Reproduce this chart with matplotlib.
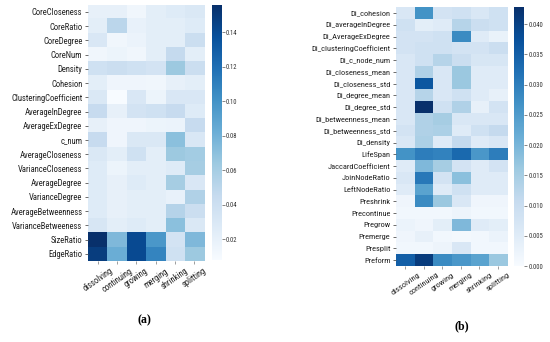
import numpy as np
import matplotlib
matplotlib.use("Agg")
import matplotlib.pyplot as plt
from matplotlib import font_manager

# labels
classes = ["dissolving", "continuing", "growing", "merging", "shrinking", "splitting"]

feats_a = ["CoreCloseness", "CoreRatio", "CoreDegree", "CoreNum", "Density",
           "Cohesion", "ClusteringCoefficient", "AverageInDegree", "AverageExDegree",
           "c_num", "AverageCloseness", "VarianceCloseness", "AverageDegree",
           "VarianceDegree", "AverageBetweenness", "VarianceBetweeness",
           "SizeRatio", "EdgeRatio"]

feats_b = ["Di_cohesion", "Di_averageInDegree", "Di_AverageExDegree",
           "Di_clusteringCoefficient", "Di_c_node_num", "Di_closeness_mean",
           "Di_closeness_std", "Di_degree_mean", "Di_degree_std",
           "Di_betweenness_mean", "Di_betweenness_std", "Di_density", "LifeSpan",
           "JaccardCoefficient", "JoinNodeRatio", "LeftNodeRatio", "Preshrink",
           "Precontinue", "Pregrow", "Premerge", "Presplit", "Preform"]

# feature importances (rows = features, cols = classes)
imp_a = [
    [0.020, 0.020, 0.013, 0.023, 0.026, 0.029],
    [0.023, 0.050, 0.019, 0.023, 0.023, 0.026],
    [0.030, 0.013, 0.017, 0.023, 0.023, 0.041],
    [0.013, 0.016, 0.013, 0.023, 0.045, 0.023],
    [0.038, 0.041, 0.038, 0.035, 0.064, 0.041],
    [0.023, 0.014, 0.014, 0.013, 0.020, 0.023],
    [0.029, 0.008, 0.030, 0.016, 0.030, 0.030],
    [0.044, 0.020, 0.035, 0.038, 0.044, 0.026],
    [0.020, 0.014, 0.014, 0.016, 0.017, 0.044],
    [0.044, 0.014, 0.029, 0.029, 0.070, 0.030],
    [0.029, 0.023, 0.038, 0.023, 0.064, 0.061],
    [0.026, 0.016, 0.023, 0.023, 0.026, 0.060],
    [0.026, 0.020, 0.026, 0.023, 0.060, 0.030],
    [0.026, 0.020, 0.023, 0.023, 0.019, 0.055],
    [0.026, 0.020, 0.023, 0.023, 0.053, 0.041],
    [0.032, 0.023, 0.026, 0.023, 0.070, 0.029],
    [0.156, 0.075, 0.141, 0.097, 0.035, 0.075],
    [0.148, 0.082, 0.141, 0.108, 0.038, 0.064],
]

imp_b = [
    [0.0064, 0.0265, 0.0077, 0.0086, 0.0064, 0.0086],
    [0.0086, 0.0043, 0.0051, 0.0128, 0.0094, 0.0086],
    [0.0077, 0.0077, 0.0086, 0.0278, 0.0051, 0.0030],
    [0.0077, 0.0086, 0.0086, 0.0077, 0.0077, 0.0094],
    [0.0064, 0.0086, 0.0128, 0.0094, 0.0068, 0.0068],
    [0.0064, 0.0137, 0.0064, 0.0163, 0.0051, 0.0051],
    [0.0064, 0.0364, 0.0064, 0.0163, 0.0051, 0.0051],
    [0.0064, 0.0128, 0.0064, 0.0086, 0.0051, 0.0034],
    [0.0064, 0.0428, 0.0086, 0.0137, 0.0034, 0.0077],
    [0.0064, 0.0137, 0.0150, 0.0064, 0.0064, 0.0064],
    [0.0077, 0.0137, 0.0141, 0.0051, 0.0086, 0.0107],
    [0.0064, 0.0141, 0.0051, 0.0107, 0.0051, 0.0064],
    [0.0265, 0.0300, 0.0291, 0.0334, 0.0257, 0.0300],
    [0.0051, 0.0193, 0.0150, 0.0077, 0.0051, 0.0077],
    [0.0064, 0.0308, 0.0077, 0.0180, 0.0051, 0.0051],
    [0.0051, 0.0235, 0.0051, 0.0086, 0.0051, 0.0051],
    [0.0017, 0.0278, 0.0163, 0.0064, 0.0017, 0.0017],
    [0.0013, 0.0013, 0.0013, 0.0021, 0.0013, 0.0013],
    [0.0026, 0.0017, 0.0043, 0.0193, 0.0051, 0.0043],
    [0.0017, 0.0034, 0.0013, 0.0009, 0.0013, 0.0026],
    [0.0013, 0.0013, 0.0021, 0.0064, 0.0013, 0.0013],
    [0.0351, 0.0407, 0.0278, 0.0257, 0.0235, 0.0163],
]

# narrow sans for the labels (reference looks like a squeezed Arial)
names = set(f.name for f in font_manager.fontManager.ttflist)
lab_font = "Liberation Sans"
for cand in ["Liberation Sans Narrow", "Roboto Condensed", "Archivo Narrow", "PT Sans Narrow"]:
    if cand in names:
        lab_font = cand
        break
plt.rcParams["font.family"] = [lab_font, "DejaVu Sans"]


def draw(fig, hm_rect, cb_rect, data, rows, vmin, vmax, ticks, fmt, fs):
    ax = fig.add_axes(hm_rect)
    cax = fig.add_axes(cb_rect)
    data = np.array(data)
    im = ax.imshow(data, cmap="Blues", vmin=vmin, vmax=vmax, aspect="auto",
                   interpolation="nearest")
    ax.set_xticks(range(len(classes)))
    ax.set_xticklabels(classes, rotation=35, fontsize=fs, color="#222222")
    ax.set_yticks(range(len(rows)))
    ax.set_yticklabels(rows, fontsize=fs, color="#222222")
    ax.tick_params(axis="x", length=2, width=0.5, color="#777777", pad=2)
    ax.tick_params(axis="y", length=2.5, width=0.6, color="#555555", pad=1.5)
    for s in ax.spines.values():
        s.set_visible(False)
    cb = fig.colorbar(im, cax=cax, ticks=ticks)
    cb.outline.set_visible(False)
    cb.ax.set_yticklabels([fmt % t for t in ticks])
    cb.ax.tick_params(labelsize=4.8, length=2, width=0.5, color="#555555", pad=1,
                      labelcolor="#333333")
    return ax


fig = plt.figure(figsize=(5.5, 3.42), dpi=100)

draw(fig, [0.160, 0.237, 0.211, 0.749], [0.385, 0.240, 0.018, 0.746],
     imp_a, feats_a, np.min(imp_a), np.max(imp_a),
     [0.02, 0.04, 0.06, 0.08, 0.10, 0.12, 0.14], "%.2f", 6.2)

draw(fig, [0.720, 0.222, 0.202, 0.757], [0.935, 0.222, 0.018, 0.757],
     imp_b, feats_b, 0.0, np.max(imp_b),
     [0.0, 0.005, 0.010, 0.015, 0.020, 0.025, 0.030, 0.035, 0.040], "%.3f", 6.0)

fig.text(0.262, 0.062, "(a)", family="Liberation Serif", fontsize=8.5,
         weight="bold", ha="center", va="center")
fig.text(0.840, 0.045, "(b)", family="Liberation Serif", fontsize=8.5,
         weight="bold", ha="center", va="center")

fig.savefig("out.png", dpi=100)
